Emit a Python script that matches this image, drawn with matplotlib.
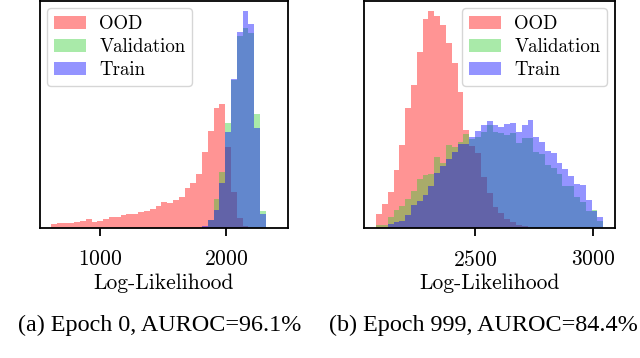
import numpy as np
import matplotlib
matplotlib.use("Agg")
import matplotlib.pyplot as plt

plt.rcParams['font.family'] = ['cmr10', 'DejaVu Serif']
plt.rcParams['mathtext.fontset'] = 'cm'
plt.rcParams['axes.formatter.use_mathtext'] = True
plt.rcParams['axes.unicode_minus'] = False

# ---------------- data (relative histogram heights) ----------------
labels = ["OOD", "Validation", "Train"]

# Panel (a): Epoch 0, 37 bins spanning the range below
a_range = (610, 2320)
a_ood = [3.3, 4.3, 4.0, 4.7, 5.0, 6.0, 8.0, 5.7, 6.3, 8.7, 10.3, 10.0, 12.7, 13.7,
         13.0, 15.0, 16.3, 18.0, 21.7, 25.0, 24.7, 27.7, 30.3, 39.0, 44.0, 52.5,
         75.0, 96.0, 118.7, 122.0, 80.0, 35.5, 9.3, 1.0, 0.0, 0.0, 0.0]
a_val = [0, 0, 0, 0, 0, 0, 0, 0, 0, 0, 0, 0, 0, 0, 0, 0, 0, 0, 0, 0, 0, 0, 0, 0,
         0, 0, 0.5, 7.0, 28.3, 55.0, 103.3, 146.0, 190.0, 197.7, 193.0, 112.0, 16.0]
a_train = [0, 0, 0, 0, 0, 0, 0, 0, 0, 0, 0, 0, 0, 0, 0, 0, 0, 0, 0, 0, 0, 0, 0, 0,
           0, 0, 1.0, 7.7, 17.7, 44.3, 94.3, 147.0, 194.0, 214.0, 201.0, 98.7, 13.3]

# Panel (b): Epoch 999, 39 bins spanning the range below
b_range = (2079, 3045)
b_ood = [13.3, 23.3, 35.3, 57.0, 82.0, 118.7, 141.0, 174.3, 207.0, 214.3, 210.0,
         201.0, 183.0, 163.0, 134.0, 97.0, 81.0, 74.0, 50.0, 34.5, 20.5, 14.0, 8.5,
         5.0, 2.5, 1.5, 0, 0, 0, 0, 0, 0, 0, 0, 0, 0, 0, 0, 0]
b_val = [2.0, 2.7, 10.0, 17.0, 21.0, 28.7, 36.0, 47.7, 52.0, 52.7, 70.0, 64.3, 81.7,
         80.0, 85.0, 93.0, 88.0, 90.0, 95.0, 102.0, 95.0, 93.3, 91.7, 93.3, 83.3,
         88.3, 89.0, 75.0, 73.3, 62.3, 59.0, 53.3, 41.0, 40.7, 30.0, 25.7, 16.7,
         17.3, 6.7]
b_train = [0, 0, 3.3, 5.3, 6.0, 12.7, 22.0, 26.7, 32.0, 41.0, 54.3, 61.0, 67.7,
           75.0, 82.3, 83.0, 90.0, 95.7, 101.7, 105.7, 101.7, 100.0, 102.3, 103.3,
           95.0, 101.7, 106.7, 90.0, 84.3, 75.7, 74.0, 64.3, 58.3, 51.0, 43.3,
           42.3, 27.7, 16.7, 10.0]

a_ticks = [1000, 2000]
b_ticks = [2500, 3000]
xlabel = "Log-Likelihood"
captions = ["(a) Epoch 0, AUROC=96.1%", "(b) Epoch 999, AUROC=84.4%"]

colors = ["red", "limegreen", "blue"]
alpha = 0.42

# ---------------- figure ----------------
W, H = 640, 358
fig = plt.figure(figsize=(W / 100, H / 100), dpi=100)

def px_axes(x0, x1, ytop, ybot):
    return fig.add_axes([x0 / W, 1 - ybot / H, (x1 - x0) / W, (ybot - ytop) / H])

ax_a = px_axes(39.5, 288, 0.5, 227.5)
ax_b = px_axes(364.3, 615, 0.5, 227.5)

def draw(ax, rng, series, ticks, xlim, legend_loc):
    edges = np.linspace(rng[0], rng[1], len(series[0]) + 1)
    centers = (edges[:-1] + edges[1:]) / 2
    for vals, c, lab in zip(series, colors, labels):
        ax.hist(centers, bins=edges, weights=vals, color=c, alpha=alpha, label=lab)
    ax.set_xlim(*xlim)
    ax.set_ylim(0, max(max(s) for s in series) * 1.05)
    ax.set_yticks([])
    ax.set_xticks(ticks)
    ax.tick_params(axis='x', length=5.5, width=1.3, labelsize=15.5, pad=10.5)
    for s in ax.spines.values():
        s.set_linewidth(1.3)
    ax.set_xlabel(xlabel, fontsize=15.5, labelpad=3)
    ax.legend(loc=legend_loc, fontsize=13.6, handlelength=1.7, borderaxespad=0.42,
              labelspacing=0.28, handletextpad=0.7, borderpad=0.35)

draw(ax_a, a_range, [a_ood, a_val, a_train], a_ticks, (519, 2496), "upper left")
draw(ax_b, b_range, [b_ood, b_val, b_train], b_ticks, (2029, 3095), "upper right")

fig.text(159.2 / W, 1 - 331 / H, captions[0], family="Liberation Serif",
         fontsize=17.4, ha="center", va="baseline")
fig.text(483.3 / W, 1 - 331 / H, captions[1], family="Liberation Serif",
         fontsize=17.4, ha="center", va="baseline")

fig.savefig("out.png", dpi=100)
